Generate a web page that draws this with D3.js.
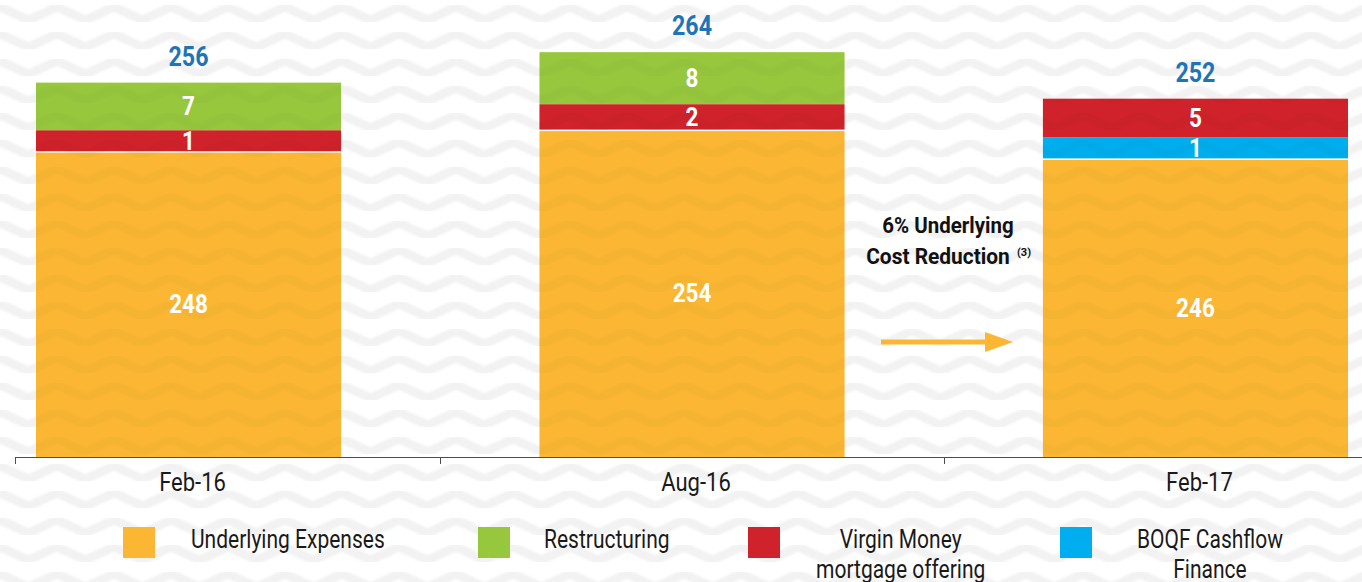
<!DOCTYPE html>
<html>
<head>
<meta charset="utf-8">
<script src="https://cdn.jsdelivr.net/npm/d3@7"></script>
<style>
  html, body { margin: 0; padding: 0; background: #fff; }
  svg { display: block; }
  text { font-family: "Roboto", "Liberation Sans", sans-serif; }
</style>
</head>
<body>
<div id="chart"></div>
<script>
const width = 1362;
const height = 582;

// data
const periods = ["Feb-16", "Aug-16", "Feb-17"];
const underlying = [248, 254, 246];
const boqf = [0, 0, 1];
const virgin = [1, 2, 5];
const restructuring = [7, 8, 0];
const totals = [256, 264, 252];

const seriesNames = ["Underlying Expenses", "BOQF Cashflow Finance", "Virgin Money mortgage offering", "Restructuring"];
const seriesValues = [underlying, boqf, virgin, restructuring];
const legendOrder = ["Underlying Expenses", "Restructuring", "Virgin Money mortgage offering", "BOQF Cashflow Finance"];
const legendLines = {
  "Underlying Expenses": ["Underlying Expenses"],
  "Restructuring": ["Restructuring"],
  "Virgin Money mortgage offering": ["Virgin Money", "mortgage offering"],
  "BOQF Cashflow Finance": ["BOQF Cashflow", "Finance"]
};
const legendLeft = [123, 478, 748, 1060];
const legendGap = [36, 34, 36, 45];

const colors = {
  "Underlying Expenses": "#FBB733",
  "Restructuring": "#97C73D",
  "Virgin Money mortgage offering": "#D0222A",
  "BOQF Cashflow Finance": "#00AEEF"
};

const baseline = 457;

const x = d3.scaleBand()
  .domain(periods)
  .range([36, 1348])
  .paddingInner(0.394)
  .paddingOuter(0);

// the chart is not drawn to scale: the base block and the small add-ons use their own scales
const hBase = d3.scaleLinear().domain([0, 240, 260]).range([0, 277, 349]);
const hSmall = d3.scaleLinear().domain([1, 8]).range([21, 52]);

// squeeze text horizontally (the original uses a condensed face)
function condense(sel, k) {
  sel.each(function () {
    const len = this.getComputedTextLength();
    d3.select(this).attr("textLength", len * k).attr("lengthAdjust", "spacingAndGlyphs");
  });
}

const svg = d3.select("#chart").append("svg")
  .attr("width", width)
  .attr("height", height);

// chevron background
const defs = svg.append("defs");
defs.append("filter").attr("id", "soft")
  .append("feGaussianBlur").attr("stdDeviation", 0.9);

function chevron(id, bg, stroke) {
  const pat = defs.append("pattern")
    .attr("id", id)
    .attr("patternUnits", "userSpaceOnUse")
    .attr("width", 57)
    .attr("height", 27);
  if (bg) pat.append("rect").attr("width", 57).attr("height", 27).attr("fill", bg);
  [-27, 0, 27].forEach(dy => {
    pat.append("path")
      .attr("d", `M-28.5,${20 + dy} L0,${7 + dy} L28.5,${20 + dy} L57,${7 + dy} L85.5,${20 + dy}`)
      .attr("fill", "none")
      .attr("stroke", stroke)
      .attr("stroke-width", 9)
      .attr("filter", "url(#soft)");
  });
}
chevron("chevron", "#fff", "#f2f2f2");
chevron("chevronDark", null, "rgba(0,0,0,0.025)");

svg.append("rect").attr("width", width).attr("height", height).attr("fill", "url(#chevron)");

// build stacked segments
const segments = [];
periods.forEach((p, i) => {
  let top = baseline;
  seriesNames.forEach((s, k) => {
    const v = seriesValues[k][i];
    if (!v) return;
    const h = k === 0 ? hBase(v) : hSmall(v);
    segments.push({ period: p, series: s, value: v, y0: top - h, y1: top, first: k === 0 });
    top -= h;
  });
});

const bars = svg.append("g");
bars.selectAll("rect.seg")
  .data(segments)
  .enter().append("rect")
  .attr("class", "seg")
  .attr("x", d => x(d.period))
  .attr("width", x.bandwidth())
  .attr("y", d => d.y0 + (d.first ? 1.5 : 0))
  .attr("height", d => d.y1 - d.y0 - (d.first ? 1.5 : 0))
  .attr("fill", d => colors[d.series]);
bars.selectAll("rect.tex")
  .data(segments)
  .enter().append("rect")
  .attr("class", "tex")
  .attr("x", d => x(d.period))
  .attr("width", x.bandwidth())
  .attr("y", d => d.y0 + (d.first ? 1.5 : 0))
  .attr("height", d => d.y1 - d.y0 - (d.first ? 1.5 : 0))
  .attr("fill", "url(#chevronDark)");

bars.selectAll("text")
  .data(segments)
  .enter().append("text")
  .attr("x", d => x(d.period) + x.bandwidth() / 2)
  .attr("y", d => (d.y0 + d.y1) / 2 + 9)
  .attr("text-anchor", "middle")
  .attr("fill", "#fff")
  .attr("font-weight", "bold")
  .attr("font-size", 25)
  .text(d => d.value)
  .call(condense, 0.9);

// totals on top
const tops = periods.map(p => d3.min(segments.filter(s => s.period === p), s => s.y0));
svg.append("g").selectAll("text")
  .data(periods)
  .enter().append("text")
  .attr("x", p => x(p) + x.bandwidth() / 2)
  .attr("y", (p, i) => tops[i] - 17)
  .attr("text-anchor", "middle")
  .attr("fill", "#1F74B8")
  .attr("font-weight", "bold")
  .attr("font-size", 27)
  .text((p, i) => totals[i])
  .call(condense, 0.86);

// x axis
const axis = svg.append("g").attr("stroke", "#4d4d4d");
axis.append("line")
  .attr("x1", 15).attr("x2", width)
  .attr("y1", baseline + 0.5).attr("y2", baseline + 0.5);
const tickXs = [15].concat(periods.slice(1).map((p, i) => (x(periods[i]) + x.bandwidth() + x(p)) / 2));
axis.selectAll(".tick")
  .data(tickXs)
  .enter().append("line")
  .attr("x1", d => Math.round(d) + 0.5).attr("x2", d => Math.round(d) + 0.5)
  .attr("y1", baseline).attr("y2", baseline + 7);

svg.append("g").selectAll("text")
  .data(periods)
  .enter().append("text")
  .attr("x", p => x(p) + x.bandwidth() / 2 + 4)
  .attr("y", baseline + 34)
  .attr("text-anchor", "middle")
  .attr("fill", "#1a1a1a")
  .attr("font-size", 25)
  .text(p => p)
  .call(condense, 0.88);

// annotation
const ann = svg.append("g").attr("font-weight", "bold").attr("fill", "#111");
ann.append("text")
  .attr("x", 948).attr("y", 233)
  .attr("text-anchor", "middle")
  .attr("font-size", 22)
  .text("6% Underlying")
  .call(condense, 0.93);
ann.append("text")
  .attr("x", 938).attr("y", 264)
  .attr("text-anchor", "middle")
  .attr("font-size", 22)
  .text("Cost Reduction")
  .call(condense, 0.95);
ann.append("text")
  .attr("x", 1017).attr("y", 256)
  .attr("font-size", 11)
  .text("(3)");

const arrowY = 342;
svg.append("line")
  .attr("x1", 881).attr("x2", 988)
  .attr("y1", arrowY).attr("y2", arrowY)
  .attr("stroke", colors["Underlying Expenses"])
  .attr("stroke-width", 5);
svg.append("path")
  .attr("d", `M985,${arrowY - 10} L1013,${arrowY} L985,${arrowY + 10} Z`)
  .attr("fill", colors["Underlying Expenses"]);

// legend
const legend = svg.append("g");
legendOrder.forEach((s, i) => {
  const g = legend.append("g").attr("transform", `translate(${legendLeft[i]},527)`);
  g.append("rect").attr("width", 32).attr("height", 31).attr("fill", colors[s]);
  const lines = legendLines[s].map((line, j) => g.append("text")
    .attr("y", 21 + j * 30)
    .attr("font-size", 25)
    .attr("fill", "#1a1a1a")
    .attr("text-anchor", "middle")
    .text(line)
    .call(condense, 0.84));
  const w = d3.max(lines, t => +t.attr("textLength"));
  lines.forEach(t => t.attr("x", 32 + legendGap[i] + w / 2));
});
</script>
</body>
</html>
